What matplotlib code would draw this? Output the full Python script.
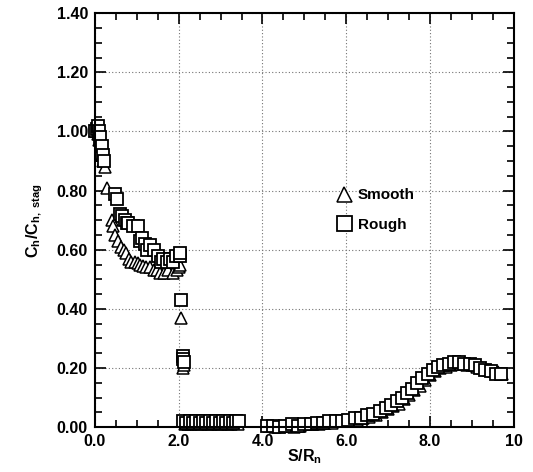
import matplotlib
matplotlib.use("Agg")
import matplotlib.pyplot as plt
from matplotlib.ticker import MultipleLocator

plt.rcParams['font.family'] = ['Liberation Sans', 'DejaVu Sans']
plt.rcParams['font.weight'] = 'bold'
plt.rcParams['mathtext.fontset'] = 'custom'
plt.rcParams['mathtext.rm'] = 'Liberation Sans:bold'
plt.rcParams['mathtext.it'] = 'Liberation Sans:bold'
plt.rcParams['mathtext.bf'] = 'Liberation Sans:bold'

# smooth model (triangles)
smooth_x = [0.02, 0.05, 0.08, 0.11, 0.14, 0.17, 0.20, 0.23, 0.30,
            0.40, 0.44, 0.48, 0.55, 0.63, 0.70, 0.75, 0.82, 0.87, 0.95,
            1.02, 1.07, 1.15, 1.23, 1.32, 1.40, 1.48, 1.55, 1.65, 1.75,
            1.86, 1.95, 2.01, 2.04, 2.05, 2.10, 2.12,
            2.15, 2.22, 2.30, 2.38, 2.46, 2.54, 2.62, 2.70, 2.78, 2.86,
            2.94, 3.02, 3.10, 3.18, 3.26, 3.34, 3.42,
            4.15, 4.30, 4.45, 4.60, 4.75, 4.90, 5.05, 5.20, 5.35, 5.50,
            5.65, 5.80, 5.95, 6.10, 6.25, 6.40, 6.55, 6.70, 6.85, 7.00,
            7.12, 7.25, 7.38, 7.50, 7.62, 7.75, 7.88, 8.00, 8.12, 8.25,
            8.38, 8.50, 8.62, 8.75, 8.88, 9.00, 9.12, 9.25, 9.38, 9.50,
            9.62, 9.72]
smooth_y = [1.00, 1.00, 0.99, 0.97, 0.95, 0.92, 0.90, 0.88, 0.81,
            0.70, 0.68, 0.65, 0.63, 0.61, 0.60, 0.59, 0.57, 0.56, 0.56,
            0.555, 0.55, 0.545, 0.54, 0.54, 0.53, 0.53, 0.52, 0.52, 0.53,
            0.52, 0.53, 0.54, 0.55, 0.37, 0.20, 0.21,
            0.01, 0.01, 0.01, 0.015, 0.01, 0.01, 0.015, 0.01, 0.01, 0.015,
            0.01, 0.01, 0.015, 0.01, 0.01, 0.015, 0.01,
            0.005, 0.00, 0.005, 0.005, 0.00, 0.005, 0.01, 0.01, 0.01, 0.015,
            0.015, 0.02, 0.02, 0.025, 0.025, 0.03, 0.035, 0.04, 0.05, 0.06,
            0.07, 0.08, 0.095, 0.11, 0.125, 0.14, 0.16, 0.175, 0.19, 0.20,
            0.205, 0.21, 0.215, 0.215, 0.21, 0.21, 0.205, 0.20, 0.195, 0.19,
            0.185, 0.18]

# rough model (squares)
rough_x = [0.01, 0.04, 0.07, 0.10, 0.13, 0.16, 0.19, 0.22, 0.48, 0.52,
           0.60, 0.65, 0.71, 0.76, 0.80, 0.90, 1.02, 1.08, 1.12, 1.20,
           1.25, 1.31, 1.40, 1.50, 1.58, 1.63, 1.72, 1.79, 1.87, 1.94,
           2.03, 2.04, 2.05, 2.10, 2.11, 2.12,
           2.10, 2.18, 2.26, 2.34, 2.42, 2.50, 2.58, 2.66, 2.74, 2.82,
           2.90, 2.98, 3.06, 3.14, 3.22, 3.30, 3.38, 3.45,
           4.10, 4.25, 4.40, 4.55, 4.70, 4.85, 5.00, 5.15, 5.30, 5.45,
           5.60, 5.75, 5.90, 6.05, 6.20, 6.35, 6.50, 6.65, 6.80, 6.95,
           7.08, 7.20, 7.32, 7.45, 7.58, 7.70, 7.82, 7.95, 8.08, 8.20,
           8.32, 8.45, 8.58, 8.70, 8.82, 8.95, 9.08, 9.20, 9.32, 9.45,
           9.58, 9.70]
rough_y = [1.00, 1.01, 1.02, 1.00, 0.98, 0.95, 0.92, 0.90, 0.79, 0.77,
           0.72, 0.715, 0.70, 0.69, 0.69, 0.68, 0.68, 0.63, 0.64, 0.62,
           0.60, 0.615, 0.60, 0.58, 0.56, 0.57, 0.56, 0.57, 0.56, 0.58,
           0.58, 0.59, 0.43, 0.24, 0.23, 0.22,
           0.02, 0.015, 0.02, 0.015, 0.02, 0.015, 0.02, 0.015, 0.02, 0.015,
           0.02, 0.015, 0.02, 0.015, 0.02, 0.015, 0.02, 0.02,
           0.005, 0.005, 0.00, 0.005, 0.01, 0.005, 0.01, 0.01, 0.015, 0.015,
           0.02, 0.02, 0.02, 0.025, 0.03, 0.03, 0.04, 0.045, 0.055, 0.065,
           0.075, 0.09, 0.10, 0.115, 0.13, 0.15, 0.165, 0.18, 0.195, 0.205,
           0.21, 0.215, 0.22, 0.22, 0.215, 0.215, 0.21, 0.20, 0.195, 0.19,
           0.18, 0.18]

xticks = [0.0, 2.0, 4.0, 6.0, 8.0, 10.0]
xticklabels = ['0.0', '2.0', '4.0', '6.0', '8.0', '10']
yticks = [0.0, 0.2, 0.4, 0.6, 0.8, 1.0, 1.2, 1.4]
yticklabels = ['0.00', '0.20', '0.40', '0.60', '0.80', '1.00', '1.20', '1.40']

fig = plt.figure(figsize=(5.33, 4.72), dpi=100)
ax = fig.add_axes([0.178, 0.095, 0.786, 0.877])

ax.plot(smooth_x, smooth_y, linestyle='none', marker='^', markersize=9,
        markerfacecolor='white', markeredgecolor='black', markeredgewidth=1.1,
        label='Smooth', clip_on=False)
ax.plot(rough_x, rough_y, linestyle='none', marker='s', markersize=9,
        markerfacecolor='white', markeredgecolor='black', markeredgewidth=1.3,
        label='Rough', clip_on=False)

ax.set_xlim(0, 10)
ax.set_ylim(0, 1.4)
ax.set_xticks(xticks)
ax.set_xticklabels(xticklabels)
ax.set_yticks(yticks)
ax.set_yticklabels(yticklabels)
ax.xaxis.set_minor_locator(MultipleLocator(0.5))
ax.yaxis.set_minor_locator(MultipleLocator(0.05))

ax.tick_params(which='both', direction='in', top=True, right=True,
               labelsize=11.5, width=1.2)
ax.tick_params(which='major', length=8, pad=5)
ax.tick_params(which='minor', length=5)
for lbl in ax.get_xticklabels() + ax.get_yticklabels():
    lbl.set_fontweight('bold')

ax.grid(True, which='major', linestyle=(0, (1, 2)), color='0.45', linewidth=0.8)
ax.set_axisbelow(True)
for sp in ax.spines.values():
    sp.set_linewidth(1.5)

ax.set_xlabel(r'S/R$_{\mathrm{n}}$', fontsize=11.5, fontweight='bold', labelpad=-1)
ax.set_ylabel(r'C$_{\mathrm{h}}$/C$_{\mathrm{h,\ stag}}$', fontsize=11.5,
              fontweight='bold', labelpad=8)

leg = ax.legend(loc='upper left', bbox_to_anchor=(0.54, 0.61), frameon=False,
                fontsize=11, handletextpad=0.3, labelspacing=1.0,
                handlelength=1.2, markerscale=1.2)
for t in leg.get_texts():
    t.set_fontweight('bold')

fig.savefig('out.png', dpi=100)
